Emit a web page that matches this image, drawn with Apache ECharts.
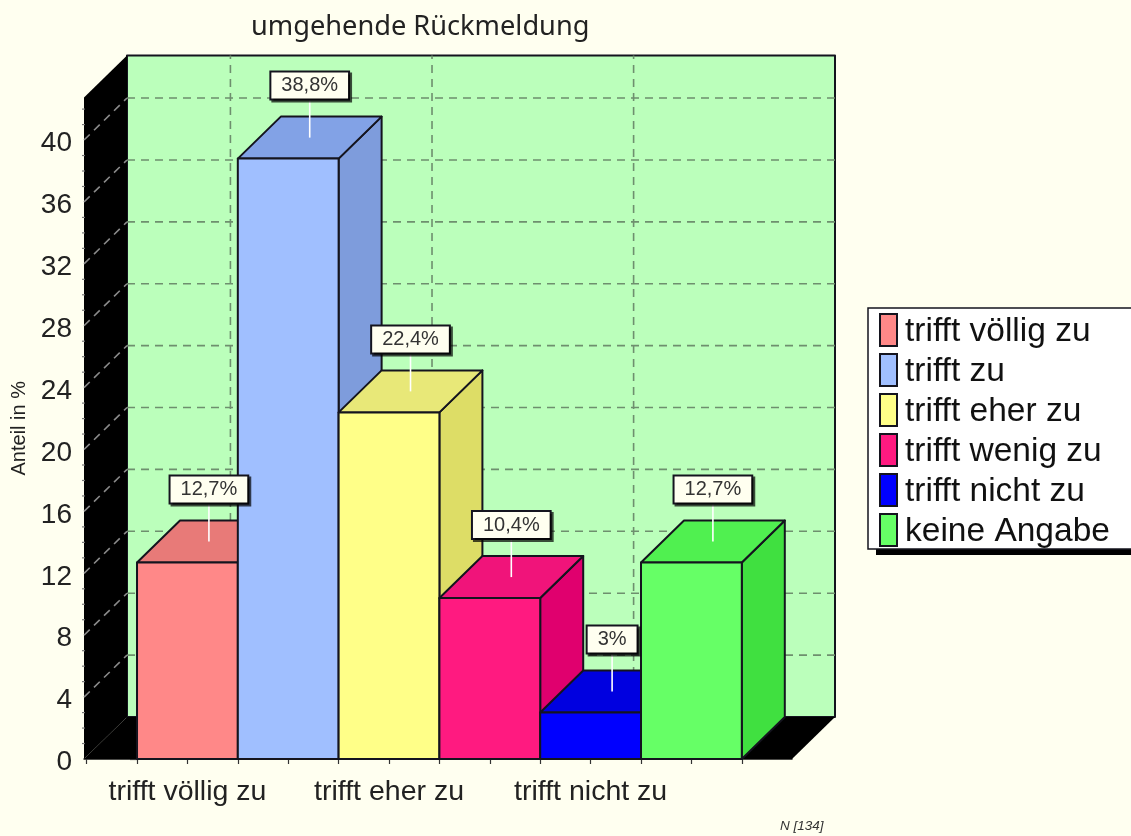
<!DOCTYPE html>
<html>
<head>
<meta charset="utf-8">
<style>html,body{margin:0;padding:0;background:#fffff0;overflow:hidden}#c{width:1131px;height:836px}</style>
<script src="https://cdn.jsdelivr.net/npm/echarts@6/dist/echarts.min.js"></script>
</head>
<body>
<div id="c"></div>
<script>
const categories = ['trifft völlig zu','trifft zu','trifft eher zu','trifft wenig zu','trifft nicht zu','keine Angabe'];
const values = [12.7, 38.8, 22.4, 10.4, 3, 12.7];
const frontColors = ['#ff8888','#a0bfff','#ffff88','#ff1a80','#0000ff','#66ff66'];
const topColors = ['#e87a78','#82a2e6','#e8e878','#f0147a','#0000e0','#50f050'];
const sideColors = ['#d86a6a','#7e9cdc','#dddd66','#e0006e','#0000c8','#40e040'];
const yTickValues = [0,4,8,12,16,20,24,28,32,36,40];
const yMinorValues = [1,2,3,5,6,7,9,10,11,13,14,15,17,18,19,21,22,23,25,26,27,29,30,31,33,34,35,37,38,39,41,42];
const xTickValues = [-0.5,0,0.5,1,1.5,2,2.5,3,3.5,4,4.5,5,5.5,6];
const xLabelValues = [0.5,2.5,4.5];
const xLabelNames = ['trifft völlig zu','trifft eher zu','trifft nicht zu'];

const DX = 43, DY = 42;
const X_MIN = -0.526, X_MAX = 6.498, Y_MAX = 42.75;
const WALL = '#bbffbb', DASH = '#6e8f6e', EDGE = '#14141e';

function poly(points, fill, stroke) {
  return {type:'polygon', shape:{points}, style:{fill, stroke: stroke || null, lineWidth: stroke ? 2 : 0, lineJoin:'round'}};
}
function dashed(p, q, color) {
  return {type:'line', shape:{x1:p[0],y1:p[1],x2:q[0],y2:q[1]}, style:{stroke:color, lineWidth:1.6, lineDash:[8,6]}};
}
function renderBackdrop(params, api) {
  const bl = api.coord([X_MIN,0]), tl = api.coord([X_MIN,Y_MAX]), br = api.coord([X_MAX,0]);
  const back = p => [p[0]+DX, p[1]-DY];
  const kids = [];
  kids.push(poly([back(tl), [br[0]+DX, tl[1]-DY], back(br), back(bl)], WALL, EDGE));
  yTickValues.slice(1).forEach(v => {
    const l = api.coord([X_MIN,v]);
    kids.push(dashed(back(l), [br[0]+DX, l[1]-DY], DASH));
  });
  xLabelValues.forEach(v => {
    const b = back(api.coord([v,0]));
    kids.push(dashed(b, [b[0], tl[1]-DY], DASH));
  });
  kids.push(poly([bl, tl, back(tl), back(bl)], '#000'));
  kids.push(poly([bl, br, back(br), back(bl)], '#000'));
  yTickValues.slice(1).forEach(v => {
    const l = api.coord([X_MIN,v]);
    kids.push(dashed(l, back(l), '#8a8a8a'));
  });
  yMinorValues.forEach(v => {
    const l = api.coord([X_MIN,v]);
    kids.push({type:'line', shape:{x1:l[0]-2,y1:l[1],x2:l[0]+1,y2:l[1]}, style:{stroke:'#777', lineWidth:1.2}});
  });
  return {type:'group', children:kids};
}
function renderBar(params, api) {
  const i = api.value(0), v = api.value(1);
  const a = api.coord([i,0]), b = api.coord([i+1,0]), c = api.coord([i+1,v]), d = api.coord([i,v]);
  const s = params.seriesIndex - 1;
  const back = p => [p[0]+DX, p[1]-DY];
  const cx = (d[0]+c[0])/2 + DX/2, cy = d[1] - DY/2;
  const kids = [
    poly([b, c, back(c), back(b)], sideColors[s], EDGE),
    poly([d, c, back(c), back(d)], topColors[s], EDGE),
    poly([a, b, c, d], frontColors[s], EDGE),
    {type:'line', z2:10, shape:{x1:cx,y1:cy,x2:cx,y2:cy-39}, style:{stroke:'#fff', lineWidth:1.6}},
    {type:'text', z2:11, style:{x:cx, y:cy-39, text:String(v).replace('.',',')+'%', align:'center', verticalAlign:'bottom',
      font:'20px "Liberation Sans"', fill:'#333', backgroundColor:'#fffff0', borderColor:'#14141e', borderWidth:2,
      padding:[3,10,3,10], shadowColor:'rgba(0,0,0,0.7)', shadowOffsetX:2, shadowOffsetY:2, shadowBlur:0}}
  ];
  return {type:'group', children:kids};
}
const barSeries = categories.map((name,i) => ({
  type:'custom', name, renderItem:renderBar, coordinateSystem:'cartesian2d', silent:true,
  itemStyle:{color:frontColors[i]}, data:[[i, values[i]]], encode:{x:0,y:1}
}));
const chart = echarts.init(document.getElementById('c'), null, {renderer:'canvas'});
chart.setOption({
  animation:false,
  backgroundColor:'#fffff0',
  title:[
    {text:'umgehende Rückmeldung', left:246, top:9, textStyle:{fontFamily:'"Noto Sans"', fontWeight:'normal', fontSize:27.2, color:'#222'}},
    {text:'N [134]', left:775, top:814, textStyle:{fontFamily:'"Liberation Sans"', fontStyle:'italic', fontWeight:'normal', fontSize:13.5, color:'#333'}}
  ],
  grid:{left:84, top:97.5, width:708, height:661.5, containLabel:false, outerBoundsMode:'none'},
  xAxis:{type:'value', min:X_MIN, max:X_MAX, splitLine:{show:false},
    axisLine:{lineStyle:{color:'#111', width:1.5}},
    axisTick:{show:true, length:5, lineStyle:{color:'#333', width:1.2}, customValues:xTickValues},
    axisLabel:{customValues:xLabelValues, margin:19, fontFamily:'"Liberation Sans"', fontSize:28.5, color:'#222',
      formatter:v => xLabelNames[xLabelValues.indexOf(v)] || ''}},
  yAxis:{type:'value', min:0, max:Y_MAX, splitLine:{show:false}, name:'Anteil in %', nameLocation:'middle', nameRotate:90, nameGap:53,
    nameTextStyle:{fontFamily:'"Liberation Sans"', fontSize:20, color:'#222'},
    axisLine:{show:true, lineStyle:{color:'#111', width:1.5}},
    axisTick:{show:true, length:7, lineStyle:{color:'#333', width:1.2}, customValues:yTickValues},
    axisLabel:{customValues:yTickValues, margin:12, formatter:'{n|{value}}',
      rich:{n:{fontFamily:'"Liberation Sans"', fontSize:28, color:'#222', padding:[7,0,0,0]}}}},
  legend:{
    left:868, top:308, z:5, orient:'vertical', icon:'rect', itemWidth:17, itemHeight:32, itemGap:4,
    padding:[5,40,0,11], backgroundColor:'#fff', borderColor:'#14141e', borderWidth:1.5,
    selectedMode:false, formatter:'{n|{name}}',
    textStyle:{rich:{n:{fontFamily:'"Liberation Sans"', fontSize:33.5, color:'#111', padding:[4,0,0,3]}}},
    data:categories.map((name,i) => ({name, icon:'rect', itemStyle:{color:frontColors[i], borderColor:'#14141e', borderWidth:2}}))
  },
  graphic:[{type:'rect', z:4, shape:{x:876, y:520, width:255, height:35}, style:{fill:'#000'}}],
  series:[
    {type:'custom', name:'wall', renderItem:renderBackdrop, coordinateSystem:'cartesian2d', silent:true, data:[[0,0]], encode:{x:0,y:1}},
    ...barSeries
  ]
});
</script>
</body>
</html>
